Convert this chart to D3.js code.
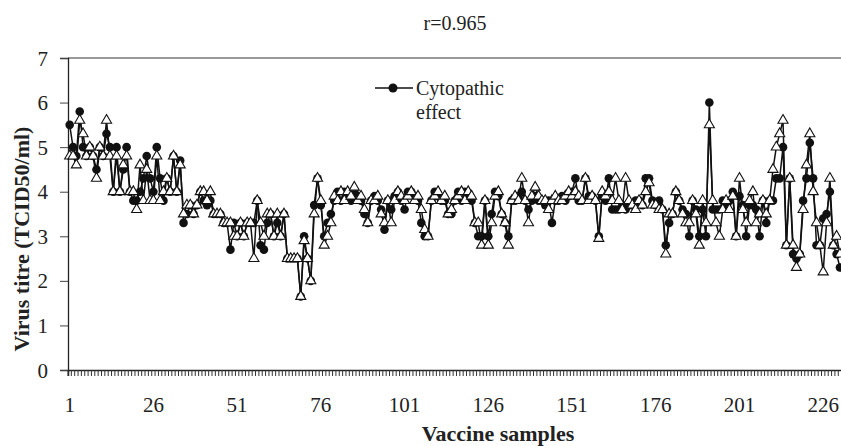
<!DOCTYPE html>
<html><head><meta charset="utf-8">
<script src="https://cdn.jsdelivr.net/npm/d3@7"></script>
<style>
html,body{margin:0;padding:0;background:#fff;}
svg{display:block;}
text{font-family:"Liberation Serif","Times New Roman",serif;fill:#222;}
</style></head>
<body><svg id="c" width="841" height="446"></svg>
<script>
const cpeValues = [
5.5,5.0,4.8,5.8,5.0,4.8,5.0,4.8,4.5,5.0,
4.8,5.3,5.0,4.0,5.0,4.0,4.5,5.0,4.0,3.8,
3.8,4.0,4.3,4.8,4.3,4.0,5.0,4.3,3.8,4.3,
4.0,4.8,4.0,4.7,3.3,3.5,3.7,3.5,3.7,4.0,
3.8,3.7,3.8,3.5,3.5,3.5,3.3,3.3,2.7,3.3,
3.0,3.3,3.0,3.3,3.3,3.3,3.8,2.8,2.7,3.3,
3.5,3.0,3.3,3.0,3.5,2.5,2.5,2.5,2.5,1.65,
3.0,2.5,2.0,3.7,4.3,3.7,3.0,3.3,3.5,3.8,
4.0,3.8,4.0,3.9,3.8,4.0,3.9,3.8,3.5,3.3,
3.8,3.9,3.8,3.6,3.15,3.8,3.6,3.9,4.0,3.8,
3.6,4.0,4.0,3.9,3.8,3.3,3.0,3.0,3.8,4.0,
3.9,3.8,3.8,3.5,3.5,3.8,4.0,3.8,4.0,3.9,
3.8,3.3,3.0,3.0,3.8,3.0,3.5,4.0,3.9,3.5,
3.3,3.0,3.8,3.8,3.9,4.0,3.8,3.6,3.8,3.9,
3.8,3.8,3.7,3.8,3.3,3.8,3.8,3.9,3.8,3.9,
4.0,4.3,3.8,3.8,4.3,3.9,3.9,3.8,3.0,3.9,
3.8,4.3,3.6,3.6,3.6,3.7,3.6,3.7,3.7,3.8,
3.8,3.7,4.3,4.3,3.8,3.7,3.8,3.6,2.8,3.3,
3.5,4.0,3.8,3.6,3.5,3.0,3.8,3.6,3.0,3.6,
3.0,6.0,3.6,3.6,3.6,3.8,3.7,3.8,4.0,3.0,
3.9,3.7,3.0,3.7,3.7,3.6,3.0,3.8,3.3,3.8,
3.8,4.3,4.3,5.0,2.8,4.3,2.6,2.5,2.6,3.8,
4.3,5.1,4.3,2.8,2.8,3.4,3.5,4.0,2.8,2.6,2.3
];
const secondValues = [
4.8,4.8,4.6,5.6,5.3,4.8,5.0,4.8,4.3,5.0,
4.8,5.6,4.8,4.0,4.8,4.0,4.6,4.8,4.0,4.0,
3.6,4.6,3.8,4.5,3.8,3.8,4.8,3.8,4.0,4.3,
4.0,4.8,4.0,4.6,3.5,3.7,3.7,3.5,3.7,4.0,
4.0,3.8,4.0,3.5,3.5,3.5,3.3,3.3,3.3,3.0,
3.0,3.3,3.0,3.3,3.3,2.5,3.8,3.3,3.0,3.5,
3.5,3.0,3.5,3.0,3.5,2.5,2.5,2.5,2.5,1.65,
2.9,2.5,2.0,3.5,4.3,3.8,2.8,3.0,3.3,3.9,
3.8,4.0,3.8,4.0,3.9,4.1,3.8,3.9,3.6,3.3,
3.8,3.8,3.9,3.5,3.3,3.8,3.3,3.8,4.0,3.9,
3.8,3.9,4.0,3.8,3.9,3.6,3.15,3.0,3.8,3.9,
4.0,3.8,3.9,3.5,3.6,3.8,3.9,4.0,3.8,4.0,
3.9,3.3,3.3,2.8,3.8,2.8,3.3,3.9,4.0,3.5,
3.3,2.8,3.8,3.9,3.8,4.3,3.8,3.3,3.9,4.1,
3.9,3.8,3.8,3.6,3.8,3.9,3.8,3.8,3.9,4.0,
3.9,4.0,3.9,3.8,4.3,3.8,3.9,3.8,2.95,4.0,
3.9,4.0,3.8,4.3,3.8,3.6,4.3,3.8,3.7,3.6,
3.8,3.7,4.0,4.2,3.7,3.7,3.6,3.6,2.6,3.5,
3.5,4.0,3.8,3.5,3.3,3.3,3.8,3.5,2.8,3.8,
3.3,5.5,3.8,3.3,3.0,3.6,3.8,3.6,3.9,3.0,
4.3,3.6,3.3,3.8,4.0,3.3,3.5,3.8,3.5,3.8,
4.5,5.0,5.3,5.6,2.8,4.3,2.8,2.3,2.6,3.6,
4.6,5.3,4.0,3.3,2.8,2.2,3.3,4.3,2.8,3.0,2.6
];
const samples = cpeValues.map((_, i) => i + 1);
const xTickLabels = [1, 26, 51, 76, 101, 126, 151, 176, 201, 226];
const yTicks = [0, 1, 2, 3, 4, 5, 6, 7];
const titleText = "r=0.965";
const legendLabel = ["Cytopathic", "effect"];
const xTitle = "Vaccine samples";
const yTitle = "Virus titre (TCID50/ml)";

const svg = d3.select("#c");
const L = 68, T = 58, B = 370, step = 3.349;
const R = L + samples.length * step;

const x = d3.scaleBand().domain(samples).range([L, R]).padding(0);
const y = d3.scaleLinear().domain([0, 7]).range([B, T]);
const cx = d => x(d) + x.bandwidth() / 2;

// top border
svg.append("line").attr("x1", L).attr("x2", 841).attr("y1", T).attr("y2", T)
  .attr("stroke", "#777").attr("stroke-width", 1.5);

// y axis
const yAx = svg.append("g").attr("transform", `translate(${L},0)`)
  .call(d3.axisLeft(y).tickValues(yTicks).tickSize(8).tickPadding(12).tickFormat(d3.format("d")));
yAx.select(".domain").attr("stroke", "#222").attr("stroke-width", 1.3);
yAx.selectAll(".tick line").attr("stroke", "#444");
yAx.selectAll("text").style("font-size", "21px").attr("fill", "#3a3a3a").attr("dy", "0.34em");

// x axis tick marks between categories
const xAx = svg.append("g").attr("transform", `translate(0,${B})`)
  .call(d3.axisBottom(x).tickValues(samples).tickSize(6).tickFormat(""));
xAx.select(".domain").attr("stroke", "#222").attr("stroke-width", 1.5);
xAx.selectAll(".tick").attr("transform", d => `translate(${x(d)},0)`);
xAx.selectAll(".tick line").attr("stroke", "#333").attr("stroke-width", 1);

// x labels
const xLab = svg.append("g").attr("transform", `translate(0,${B})`)
  .call(d3.axisBottom(x).tickValues(xTickLabels).tickSize(0).tickPadding(27));
xLab.select(".domain").remove();
xLab.selectAll("text").style("font-size", "21px").attr("fill", "#3a3a3a");

// series lines
const line = vals => d3.line().x((d, i) => cx(samples[i])).y(d => y(d))(vals);
svg.append("path").attr("d", line(cpeValues)).attr("fill", "none")
  .attr("stroke", "#111").attr("stroke-width", 1.5);
svg.append("path").attr("d", line(secondValues)).attr("fill", "none")
  .attr("stroke", "#111").attr("stroke-width", 1.5);

// markers
svg.append("g").selectAll("circle").data(cpeValues).join("circle")
  .attr("cx", (d, i) => cx(samples[i])).attr("cy", d => y(d)).attr("r", 4.3)
  .attr("fill", "#111");
const tri = d3.symbol().type(d3.symbolTriangle).size(44);
svg.append("g").selectAll("path").data(secondValues).join("path")
  .attr("d", tri).attr("transform", (d, i) => `translate(${cx(samples[i])},${y(d)})`)
  .attr("fill", "#fff").attr("stroke", "#111").attr("stroke-width", 1.1);

// legend
svg.append("line").attr("x1", 375).attr("x2", 413).attr("y1", 88).attr("y2", 88)
  .attr("stroke", "#111").attr("stroke-width", 1.5);
svg.append("circle").attr("cx", 393).attr("cy", 88).attr("r", 4.5).attr("fill", "#111");
svg.append("text").attr("x", 416).attr("y", 95).style("font-size", "20px").attr("fill", "#3a3a3a").text(legendLabel[0]);
svg.append("text").attr("x", 416).attr("y", 119).style("font-size", "20px").attr("fill", "#3a3a3a").text(legendLabel[1]);

// title
svg.append("text").attr("x", 455).attr("y", 30).attr("text-anchor", "middle")
  .style("font-size", "20px").attr("fill", "#3a3a3a").text(titleText);

// axis titles
svg.append("text").attr("x", 498).attr("y", 441).attr("text-anchor", "middle")
  .style("font-size", "22px").style("font-weight", "bold").attr("fill", "#222").text(xTitle);
svg.append("text").attr("transform", "translate(29,239) rotate(-90)").attr("text-anchor", "middle")
  .style("font-size", "22px").style("font-weight", "bold").attr("fill", "#222").text(yTitle);
</script></body></html>
